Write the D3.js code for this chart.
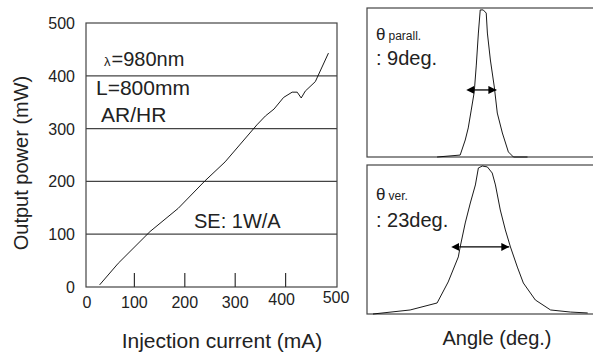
<!DOCTYPE html>
<html><head><meta charset="utf-8">
<script src="https://cdn.jsdelivr.net/npm/d3@7"></script>
<style>body{margin:0;background:#fff}svg{display:block;font-family:Arial,"Liberation Sans",sans-serif;fill:#222}</style>
</head><body>
<svg id="c" width="593" height="353"></svg>
<script>
// Main L-I curve
const current = [31,68,131,187,240,280,343,360,377,396,413,423,431,439,459,485];
const power   = [4,45,105,149,201,237,307,324,337,359,369,369,358,371,389,443];
const xTicks = [0,100,200,300,400,500];
const yTicks = [0,100,200,300,400,500];
// Far-field patterns (angle deg, relative intensity)
const parAngle = [-19.6,-9.6,-7.4,-6.1,-4.8,-3.5,-2.6,-1.7,-0.9,0.4,1.7,2.2,3.5,5.2,6.5,8.7,11.3,13.5,19.6];
const parInt   = [0,0.013,0.114,0.195,0.315,0.436,0.617,0.832,0.987,0.987,0.966,0.832,0.651,0.47,0.295,0.161,0.034,0,0];
const verAngle = [-47.4,-31.3,-19.6,-14.8,-10.4,-9.6,-7.4,-5.2,-3.0,-1.7,0,2.2,4.3,5.7,7.8,10,12.2,15.2,17.8,23,29.6,38.3,45.7];
const verInt   = [0,0.027,0.074,0.215,0.383,0.45,0.611,0.745,0.866,0.98,0.993,0.987,0.946,0.866,0.698,0.564,0.45,0.315,0.208,0.094,0.027,0.013,0.007];
const parArrow = [-3.5,6.1], verArrow = [-10,11.7], arrowLevel = 0.45;

const svg = d3.select("#c");
const defs = svg.append("defs");
["s","e"].forEach(id=>{
  defs.append("marker").attr("id","ah"+id).attr("viewBox","0 0 10 10")
   .attr("refX",id==="e"?10:0).attr("refY",5).attr("markerWidth",8).attr("markerHeight",8)
   .attr("markerUnits","userSpaceOnUse").attr("orient","auto-start-reverse")
   .append("path").attr("d","M0,0L10,5L0,10z").attr("fill","#000");
});

// Main chart
const L=86,R=337,T=23,B=287;
const x = d3.scaleLinear().domain([0,500]).range([84,336]);
const y = d3.scaleLinear().domain([0,500]).range([B,T]);
const g = svg.append("g");
yTicks.filter(d=>d>0&&d<500).forEach(d=>{
  g.append("line").attr("x1",L).attr("x2",R).attr("y1",y(d)).attr("y2",y(d)).attr("stroke","#444").attr("stroke-width",1.2);
});
g.append("rect").attr("x",L).attr("y",T).attr("width",R-L).attr("height",B-T).attr("fill","none").attr("stroke","#444").attr("stroke-width",1.2);
xTicks.filter(d=>d>0&&d<500).forEach(d=>{
  g.append("line").attr("x1",x(d)).attr("x2",x(d)).attr("y1",B).attr("y2",B-14).attr("stroke","#333").attr("stroke-width",1.2);
});
const xLabDy = {0:0,100:0,200:0,300:0,400:-3,500:-5};
xTicks.forEach(d=>{
  g.append("text").attr("x",x(d)+(d===0?3:0)-(d===400?4:0)).attr("y",308+xLabDy[d]).attr("text-anchor","middle").attr("font-size",16).text(d);
});
yTicks.forEach(d=>{
  g.append("text").attr("x",75).attr("y",y(d)+6).attr("text-anchor","end").attr("font-size",16).text(d);
});
g.append("path").datum(current.map((c,i)=>[c,power[i]]))
 .attr("d",d3.line().x(d=>x(d[0])).y(d=>y(d[1]))).attr("fill","none").attr("stroke","#000").attr("stroke-width",0.9);
g.append("text").attr("transform","translate(28,163) rotate(-90)").attr("text-anchor","middle").attr("font-size",20).text("Output power (mW)");
g.append("text").attr("x",222).attr("y",348).attr("text-anchor","middle").attr("font-size",21).text("Injection current (mA)");
const t1 = g.append("text").attr("x",104).attr("y",66).attr("font-size",20);
t1.append("tspan").attr("font-size",13).text("λ");
t1.append("tspan").attr("dx",1).text("=980nm");
g.append("text").attr("x",96).attr("y",95).attr("font-size",21).text("L=800mm");
g.append("text").attr("x",101).attr("y",122).attr("font-size",21).text("AR/HR");
g.append("text").attr("x",194).attr("y",228).attr("font-size",20).text("SE: 1W/A");

// Far-field panels
const PL=367, PR=593;
const xa = d3.scaleLinear().domain([-50,48]).range([PL,PR]);
function panel(top,bottom,ang,inten,arrow,sym,sub,val,o1,o2){
  const yy = d3.scaleLinear().domain([0,1]).range([bottom,top]);
  const pg = svg.append("g");
  pg.append("rect").attr("x",PL).attr("y",top).attr("width",PR-PL+5).attr("height",bottom-top).attr("fill","none").attr("stroke","#444").attr("stroke-width",1.2);
  pg.append("path").datum(ang.map((a,i)=>[a,inten[i]]))
    .attr("d",d3.line().x(d=>xa(d[0])).y(d=>yy(d[1]))).attr("fill","none").attr("stroke","#000").attr("stroke-width",0.9);
  pg.append("line").attr("x1",xa(arrow[0])).attr("x2",xa(arrow[1])).attr("y1",yy(arrowLevel)).attr("y2",yy(arrowLevel))
    .attr("stroke","#000").attr("stroke-width",1.3).attr("marker-start","url(#ahs)").attr("marker-end","url(#ahe)");
  const tt = pg.append("text").attr("x",376).attr("y",top+o1).attr("font-size",17);
  tt.append("tspan").text(sym);
  tt.append("tspan").attr("font-size",12).attr("dx",3).text(sub);
  pg.append("text").attr("x",376).attr("y",top+o2).attr("font-size",20).text(val);
}
panel(8,157,parAngle,parInt,parArrow,"θ","parall.",": 9deg.",32,57);
panel(165,314,verAngle,verInt,verArrow,"θ","ver.",": 23deg.",35,62);
svg.append("text").attr("x",497).attr("y",345).attr("text-anchor","middle").attr("font-size",20).text("Angle (deg.)");
</script>
</body></html>
